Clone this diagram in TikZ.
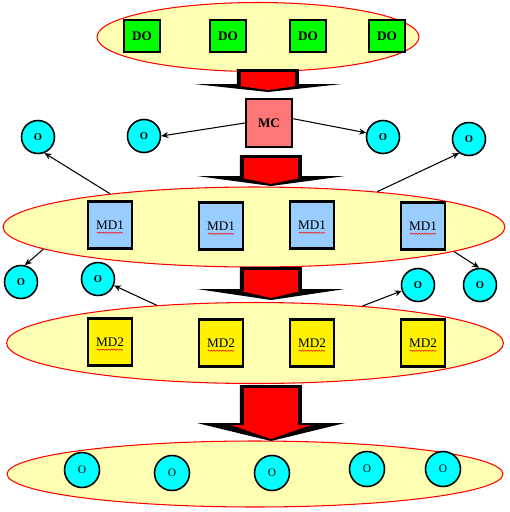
\documentclass[tikz,border=0pt]{standalone}
\usepackage{fontspec}
\setmainfont{Liberation Serif}
\usetikzlibrary{shapes.geometric,decorations.pathmorphing,arrows.meta}

\definecolor{paleyellow}{RGB}{255,255,180}
\definecolor{salmonred}{RGB}{255,118,118}
\definecolor{skyblue}{RGB}{153,204,255}
\definecolor{aqua}{RGB}{0,255,255}
\definecolor{limegreen}{RGB}{0,255,0}

% x centre, top, shoulder, tip, half width of the red head
\newcommand{\flowarrow}[5]{%
  \fill[black] (#1-31,#2) -- (#1+31,#2) -- (#1+31,#3) -- (#1+74,#3) -- (#1,#4) -- (#1-74,#3) -- (#1-31,#3) -- cycle;
  \fill[red] (#1-27,#2+3) -- (#1+27,#2+3) -- (#1+27,#3+2) -- (#1+#5,#3+2) -- (#1,#4-2) -- (#1-#5,#3+2) -- (#1-27,#3+2) -- cycle;
}

\begin{document}
\begin{tikzpicture}[x=0.02cm, y=-0.02cm,
    every node/.style={font=\fontsize{7.5}{8}\selectfont},
    layer/.style={ellipse, draw=red, line width=0.6pt, fill=paleyellow, inner sep=0pt},
    box/.style={rectangle, draw=black, line width=1.4pt, inner sep=0pt},
    obj/.style={circle, draw=black, line width=0.9pt, fill=aqua, minimum size=0.66cm, inner sep=0pt, font=\bfseries\fontsize{6}{7}\selectfont},
    link/.style={-{Stealth[length=4pt,width=3.5pt]}, line width=0.6pt},
    squiggle/.style={red, line width=0.3pt, decorate, decoration={snake, amplitude=0.35pt, segment length=1.6pt}}]
    \useasboundingbox (0,0) rectangle (510,512);

    % layers
    \node[layer, minimum width=6.44cm, minimum height=1.38cm] (top) at (258,37) {};
    \node[layer, minimum width=10.04cm, minimum height=1.6cm] (mid1) at (254,227) {};
    \node[layer, minimum width=9.94cm, minimum height=1.62cm] (mid2) at (255,343) {};
    \node[layer, minimum width=9.92cm, minimum height=1.32cm] (bot) at (255,474) {};

    \foreach \x [count=\i] in {142,228,308,387}
        \node[box, fill=limegreen, minimum width=0.72cm, minimum height=0.64cm, font=\bfseries\fontsize{7.5}{8}\selectfont] (do\i) at (\x,36) {DO};

    \node[box, fill=salmonred, minimum width=0.92cm, minimum height=0.96cm, font=\bfseries\fontsize{7.5}{8}\selectfont] (mc) at (269,123) {MC};

    \foreach \x/\y [count=\i] in {110/225,221/226,312/225,423/226} {
        \node[box, fill=skyblue, minimum width=0.88cm, minimum height=0.94cm] (mdone\i) at (\x,\y) {MD1};
        \draw[squiggle] ([xshift=-7.5pt, yshift=-4.4pt]mdone\i.center) -- ++(15pt,0);
    }
    \foreach \x/\y [count=\i] in {110/342,221/343,312/343,423/343} {
        \node[box, fill=yellow, minimum width=0.88cm, minimum height=0.94cm] (mdtwo\i) at (\x,\y) {MD2};
        \draw[squiggle] ([xshift=-7.5pt, yshift=-4.4pt]mdtwo\i.center) -- ++(15pt,0);
    }

    % block arrows
    \flowarrow{268}{69}{84}{92}{29}
    \flowarrow{271}{155}{176}{186}{29}
    \flowarrow{271}{267}{289}{300}{30}
    \flowarrow{271}{385}{423}{441}{40}

    % objects
    \node[obj] (o1) at (38,137) {O};
    \node[obj] (o2) at (144,136) {O};
    \node[obj] (o3) at (383,137) {O};
    \node[obj] (o4) at (469,139) {O};
    \node[obj] (o5) at (21,282) {O};
    \node[obj] (o6) at (98,279) {O};
    \node[obj] (o7) at (418,285) {O};
    \node[obj] (o8) at (480,285) {O};
    \foreach \x/\y [count=\i] in {82/470,172/473,272/473,367/469,443/469}
        \node[obj, minimum size=0.7cm, font=\fontsize{6.5}{7}\selectfont] (ob\i) at (\x,\y) {O};

    \draw[link] (mc.west) -- (o2.east);
    \draw[link] (mc.10) -- (o3.166);
    \draw[link] (mid1.167) -- (o1.292);
    \draw[link] (mid1.16) -- (o4.235);
    \draw[link] (mid1.186) -- (o5.77);
    \draw[link] (mid1.353) -- (o8.93);
    \draw[link] (mid2.159) -- (o6.338);
    \draw[link] (mid2.19) -- (o7.200);
\end{tikzpicture}
\end{document}
